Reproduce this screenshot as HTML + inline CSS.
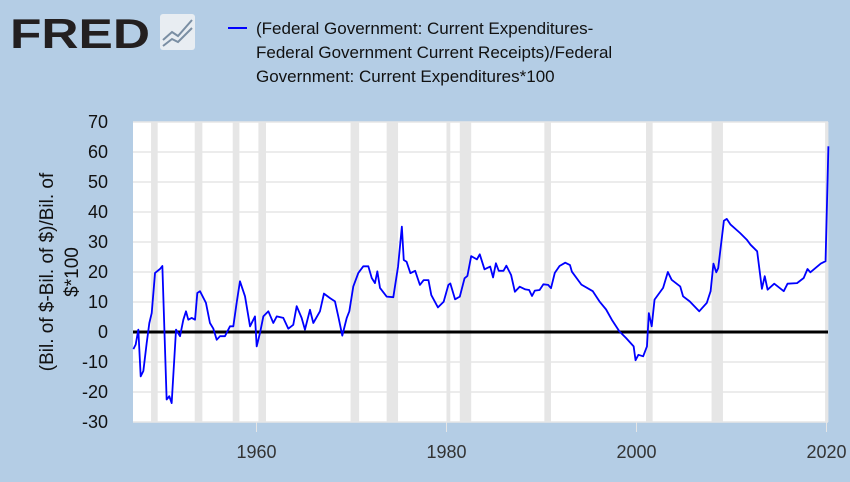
<!DOCTYPE html>
<html><head><meta charset="utf-8"><style>
body{margin:0;background:#b4cde5;width:850px;height:477px;overflow:hidden;font-family:"Liberation Sans",sans-serif;}
</style></head><body>
<svg width="850" height="477" xmlns="http://www.w3.org/2000/svg">
<rect width="850" height="477" fill="#b4cde5"/>
<g>
<text x="10" y="48" font-size="42" font-weight="bold" fill="#231f20" font-family="Liberation Sans, sans-serif" textLength="140" lengthAdjust="spacingAndGlyphs">FRED</text>
<rect x="160" y="14" width="35" height="36" rx="3" fill="#e8edf2"/>
<polyline points="163,40 172,32 178,36 192,20" fill="none" stroke="#7a8ea3" stroke-width="2"/>
<polyline points="163,46 172,39 178,42 192,28" fill="none" stroke="#7a8ea3" stroke-width="2"/>
</g>
<g>
<line x1="228" y1="28" x2="247" y2="28" stroke="#0000ff" stroke-width="2"/>
<text x="256" y="34" font-size="17" fill="#111"><tspan x="256" y="34">(Federal Government: Current Expenditures-</tspan><tspan x="256" y="58">Federal Government Current Receipts)/Federal</tspan><tspan x="256" y="82">Government: Current Expenditures*100</tspan></text>
</g>
<rect x="133" y="122" width="695" height="300" fill="#fff"/>
<g id="rec"></g><g id="grid"></g><g id="axes"></g>
<g transform="translate(53,272) rotate(-90)">
<text x="0" y="0" text-anchor="middle" font-size="19" fill="#111">(Bil. of $-Bil. of $)/Bil. of</text>
<text x="0" y="25" text-anchor="middle" font-size="19" fill="#111">$*100</text>
</g>
<g id="series"></g>
</svg>
<script>
const recStart=[1948.9,1953.5,1957.5,1960.2,1969.9,1973.7,1980.0,1981.4,1990.3,2001.0,2007.9,2019.85];
const recEnd=[1949.6,1954.3,1958.2,1961.0,1970.8,1974.9,1980.4,1982.6,1991.0,2001.7,2009.1,2020.2];
const yTicks=[-30,-20,-10,0,10,20,30,40,50,60,70];
const xTicks=[1960,1980,2000,2020];
const years=[1947.04,1947.28,1947.56,1947.81,1948.09,1948.44,1948.72,1948.97,1949.32,1949.84,1950.09,1950.54,1950.82,1951.07,1951.53,1951.95,1952.3,1952.58,1952.82,1953.18,1953.53,1953.77,1954.05,1954.68,1955.1,1955.46,1955.81,1956.16,1956.68,1957.21,1957.56,1957.91,1958.26,1958.79,1959.32,1959.84,1960.02,1960.37,1960.72,1961.25,1961.77,1962.13,1962.82,1963.35,1963.87,1964.23,1964.75,1965.1,1965.63,1965.98,1966.68,1967.1,1967.74,1968.26,1968.61,1969.03,1969.5,1969.77,1970.19,1970.72,1971.24,1971.77,1972.13,1972.47,1972.72,1973.0,1973.7,1974.4,1974.9,1975.3,1975.5,1975.8,1976.2,1976.7,1977.2,1977.6,1978.1,1978.4,1979.1,1979.7,1980.2,1980.4,1980.9,1981.4,1981.9,1982.2,1982.6,1983.2,1983.5,1984.0,1984.6,1984.9,1985.2,1985.5,1986.0,1986.3,1986.8,1987.2,1987.7,1988.3,1988.7,1989.0,1989.3,1989.8,1990.2,1990.7,1991.0,1991.4,1991.9,1992.5,1993.0,1993.2,1994.2,1995.4,1996.1,1996.8,1997.4,1998.2,1998.9,1999.7,1999.9,2000.2,2000.7,2001.1,2001.3,2001.6,2001.9,2002.8,2003.3,2003.7,2004.6,2004.9,2005.6,2006.6,2007.4,2007.8,2008.1,2008.4,2008.6,2009.2,2009.5,2009.9,2010.9,2011.6,2012.0,2012.7,2013.2,2013.5,2013.8,2014.5,2015.5,2015.9,2016.9,2017.6,2018.0,2018.3,2019.4,2019.9,2020.2];
const values=[-5.7,-4.2,0.8,-14.8,-13,-3.7,3,6.3,19.7,21,22,-22.5,-21.4,-23.7,0.8,-1.4,4.1,6.9,4.1,4.7,4.1,13,13.6,9.7,3,1.1,-2.6,-1.4,-1.4,1.9,1.9,9.7,16.9,11.9,1.9,5.2,-4.8,-0.3,5.2,6.9,3,5.2,4.7,1.1,2.4,8.6,4.7,0.8,7.4,3,6.9,12.8,11.3,10.2,5.2,-1.2,4.7,6.9,15.2,19.7,21.9,21.9,18,16.3,20.2,14.7,11.8,11.6,21.8,35.1,24,23.4,19.6,20.4,15.7,17.3,17.3,12.3,8.2,10.1,15.7,16.2,10.9,11.8,17.9,18.7,25.3,24.2,25.9,20.9,21.8,18.2,22.9,20.4,20.4,22.1,19,13.4,15.1,14.2,14,12,13.8,14,15.9,15.7,14.6,19.7,22,23.1,22.3,20.1,15.8,13.6,10.2,7.5,4.1,0.2,-2,-4.8,-9.4,-7.6,-8.1,-4.8,6.3,1.9,10.8,14.7,20,17.4,15.2,11.9,10.2,6.9,9.7,13.6,22.8,19.9,21.3,37.1,37.7,35.8,33,30.8,29.1,26.9,14.4,18.6,14.1,16.1,13.6,16.1,16.3,18,21,19.9,22.8,23.6,61.9];
const X=y=>133+(y-1947)*9.5;
const Y=v=>332-v*3;
const NS='http://www.w3.org/2000/svg';
function mk(tag,attrs,parent){const e=document.createElementNS(NS,tag);for(const k in attrs)e.setAttribute(k,attrs[k]);parent.appendChild(e);return e;}
const rec=document.getElementById('rec'),grid=document.getElementById('grid'),axes=document.getElementById('axes'),series=document.getElementById('series');
recStart.forEach((s,i)=>{const r=mk('rect',{x:X(s),y:122,width:X(recEnd[i])-X(s),height:300,fill:'#e6e6e6'},rec);

});
yTicks.forEach(t=>{if(t!==0){const l=mk('line',{x1:133,x2:828,y1:Y(t),y2:Y(t),stroke:'#e6e6e6','stroke-width':1.5},grid);

}
const tx=mk('text',{x:108,y:Y(t)+6,'text-anchor':'end','font-size':18,fill:'#111'},axes);tx.textContent=t;

});
xTicks.forEach(t=>{const l=mk('line',{x1:X(t),x2:X(t),y1:422,y2:432,stroke:'#e6e6e6','stroke-width':1},axes);


const tx=mk('text',{x:X(t),y:458,'text-anchor':'middle','font-size':18,fill:'#333'},axes);tx.textContent=t;

});
const z=mk('line',{x1:133,x2:828,y1:Y(0),y2:Y(0),stroke:'#000','stroke-width':3},series);


const p=mk('polyline',{points:years.map((y,i)=>X(y)+','+Y(values[i])).join(' '),fill:'none',stroke:'#0000ff','stroke-width':1.8,'stroke-linejoin':'round'},series);


</script>
</body></html>
